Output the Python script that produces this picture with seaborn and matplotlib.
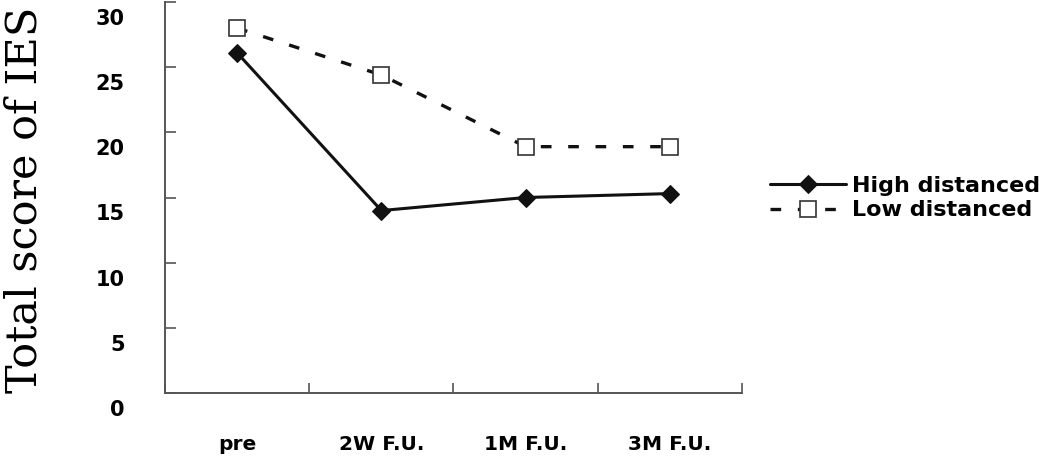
import matplotlib
matplotlib.use("Agg")
import matplotlib.pyplot as plt
import matplotlib.transforms as mtransforms
import pandas as pd
import seaborn as sns

# datos
periodos = ["pre", "2W F.U.", "1M F.U.", "3M F.U."]
alto = [26.1, 14.0, 15.0, 15.3]
bajo = [28.0, 24.4, 18.9, 18.9]
etiquetas = ["High distanced", "Low distanced"]
yticks = [0, 5, 10, 15, 20, 25, 30]

sns.set_style("white")
plt.rcParams["font.family"] = ["DejaVu Sans"]
plt.rcParams["text.color"] = "black"

df_alto = pd.DataFrame({"periodo": periodos, "score": alto})
df_bajo = pd.DataFrame({"periodo": periodos, "score": bajo})

fig = plt.figure(figsize=(10.45, 4.57), dpi=100)
ax = fig.add_axes([165 / 1045, 1 - 393 / 457, (742 - 165) / 1045, (393 - 2) / 457])

sns.lineplot(data=df_bajo, x="periodo", y="score", ax=ax, color="#111111",
             linewidth=2.4, linestyle=(0, (3.2, 5)), marker="s", markersize=11,
             markerfacecolor="white", markeredgecolor="#333333", markeredgewidth=1.2,
             label=etiquetas[1])
sns.lineplot(data=df_alto, x="periodo", y="score", ax=ax, color="#111111",
             linewidth=2.2, marker="D", markersize=9, markerfacecolor="#111111",
             markeredgecolor="#111111", label=etiquetas[0])

ax.set_xlim(-0.5, 3.5)
ax.set_ylim(0, 30)
ax.set_yticks(yticks)
ax.set_yticklabels([str(v) for v in yticks], fontsize=15, fontweight="bold")
ax.set_xticks([-0.5, 0.5, 1.5, 2.5, 3.5])
ax.set_xticklabels([])
ax.set_xticks(range(len(periodos)), minor=True)
ax.set_xticklabels(periodos, minor=True, fontsize=14.5, fontweight="bold")
ax.tick_params(axis="x", which="major", bottom=True, direction="in", length=7,
               width=1.2, color="#555555")
ax.tick_params(axis="x", which="minor", bottom=True, length=0, pad=30,
               labelcolor="black")
ax.tick_params(axis="y", left=True, direction="in", length=8, width=1.2,
               color="#555555", pad=29, labelcolor="black")
ax.set_xlabel("")
ax.set_ylabel("")

# etiquetas del eje y desplazadas hacia abajo como en el original
offset = mtransforms.ScaledTranslation(0, -15 / 100, fig.dpi_scale_trans)
for lbl in ax.get_yticklabels():
    lbl.set_transform(lbl.get_transform() + offset)

for side in ["top", "right"]:
    ax.spines[side].set_visible(False)
for side in ["left", "bottom"]:
    ax.spines[side].set_color("#555555")
    ax.spines[side].set_linewidth(1.4)

handles, labels = ax.get_legend_handles_labels()
order = [labels.index(etiquetas[0]), labels.index(etiquetas[1])]
leg = ax.legend([handles[i] for i in order], [labels[i] for i in order],
                loc="center left", bbox_to_anchor=(770 / 1045, 1 - 198 / 457),
                bbox_transform=fig.transFigure, frameon=False,
                prop={"weight": "bold", "size": 16}, handlelength=3.4,
                handletextpad=0.3, labelspacing=0.22, borderaxespad=0, borderpad=0)
for t in leg.get_texts():
    t.set_color("black")

fig.text(25 / 1045, 1 - 200 / 457, "Total score of IES", rotation=90,
         ha="center", va="center", fontsize=31, family=["DejaVu Serif"])

fig.savefig("out.png", dpi=100)
